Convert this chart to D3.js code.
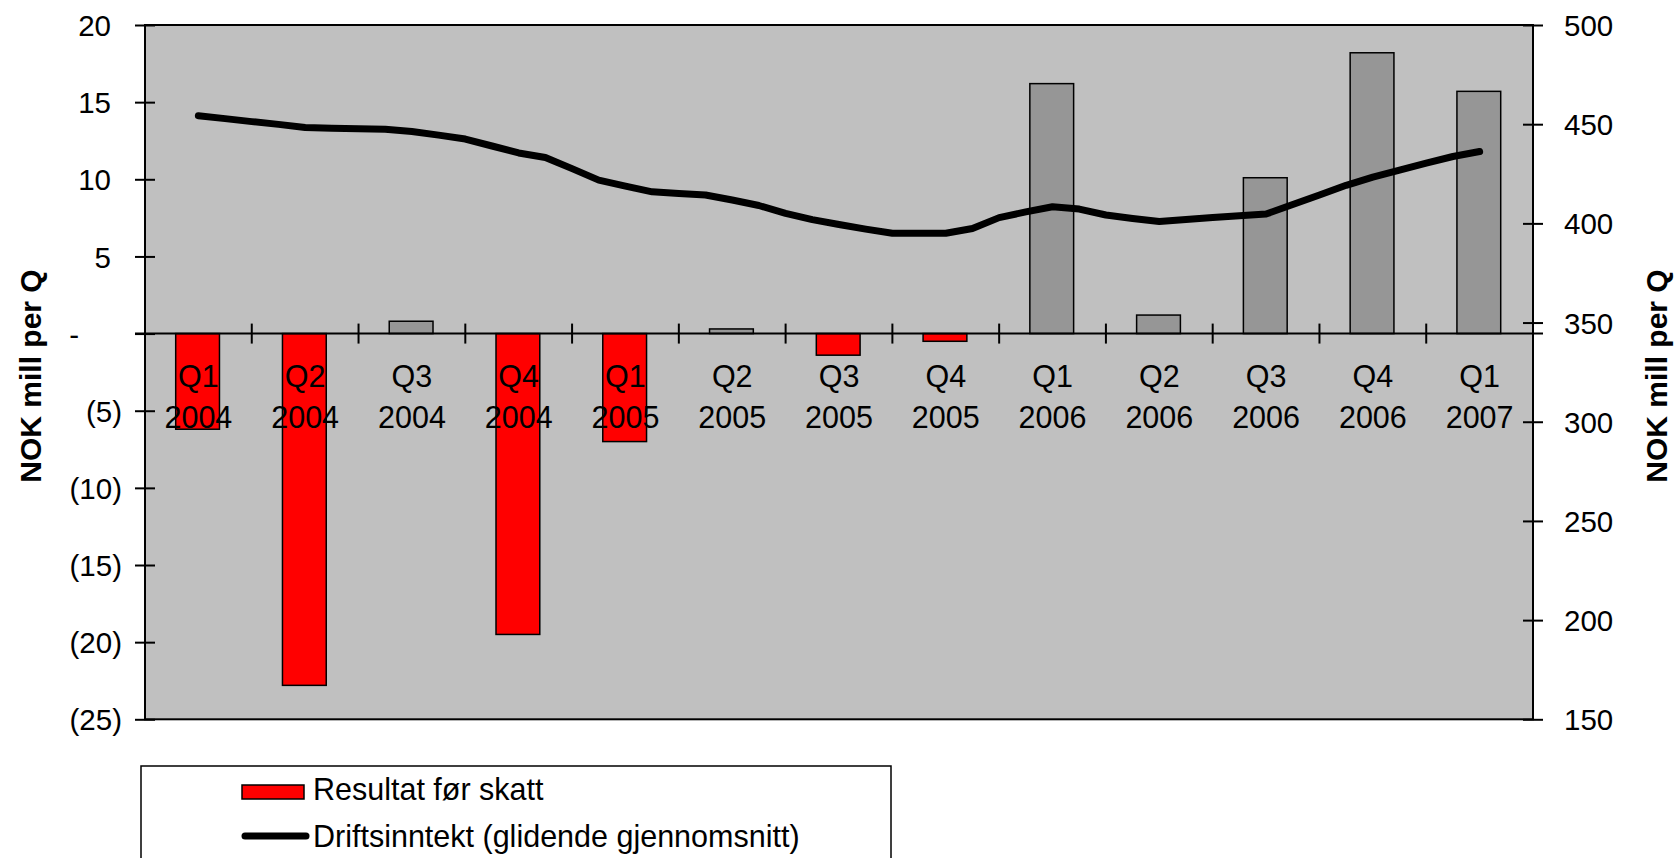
<!DOCTYPE html>
<html>
<head>
<meta charset="utf-8">
<script src="https://cdn.jsdelivr.net/npm/d3@7/dist/d3.min.js"></script>
<style>
  html, body { margin: 0; padding: 0; background: #ffffff; }
  svg { display: block; }
  text { font-family: "Liberation Sans", Arial, sans-serif; fill: #000; }
</style>
</head>
<body>
<svg id="chart" width="1674" height="858"></svg>
<script>
// ---------- DATA ----------
const quarters = ["Q1","Q2","Q3","Q4","Q1","Q2","Q3","Q4","Q1","Q2","Q3","Q4","Q1"];
const years    = ["2004","2004","2004","2004","2005","2005","2005","2005","2006","2006","2006","2006","2007"];
// Resultat før skatt (NOK mill per Q), left axis
const resultat = [-6.2, -22.8, 0.8, -19.5, -7.0, 0.3, -1.4, -0.5, 16.2, 1.2, 10.1, 18.2, 15.7];
// Driftsinntekt (glidende gjennomsnitt), right axis, sampled 4 times per quarter from Q1 2004 to Q1 2007
const driftsinntekt = [
  454.3, 452.8, 451.3, 449.9, 448.3, 448.0, 447.7, 447.4,
  446.3, 444.5, 442.5, 439.0, 435.5, 433.2, 427.6, 421.8,
  418.8, 415.9, 415.1, 414.3, 411.8, 409.0, 405.0, 401.9,
  399.4, 397.1, 395.0, 395.0, 395.0, 397.4, 402.9, 405.8,
  408.4, 407.2, 404.2, 402.5, 400.9, 401.9, 403.0, 403.9,
  404.7, 409.5, 414.3, 419.2, 423.3, 426.9, 430.4, 433.7, 436.2
];
const leftTicks  = [-25, -20, -15, -10, -5, 0, 5, 10, 15, 20];
const rightTicks = [150, 200, 250, 300, 350, 400, 450, 500];
const leftTitle  = "NOK mill per Q";
const rightTitle = "NOK mill per Q";
const legendLabels = ["Resultat før skatt", "Driftsinntekt (glidende gjennomsnitt)"];

// ---------- LAYOUT ----------
const svg = d3.select("#chart");
const L = 145, R = 1533, T = 25, B = 719.3;
const idx = d3.range(quarters.length);

const x = d3.scaleBand().domain(idx).range([L, R]).padding(0);
const bw = x.bandwidth();
const yL = d3.scaleLinear().domain([-25, 20]).range([B, T]);
const yR = d3.scaleLinear().domain([150, 500]).range([B, T]);
const xLine = d3.scaleLinear().domain([0, quarters.length - 1])
  .range([x(0) + bw / 2, x(quarters.length - 1) + bw / 2]);

// plot background
svg.append("rect").attr("x", L).attr("y", T).attr("width", R - L).attr("height", B - T)
  .attr("fill", "#C0C0C0");

// bars
const barW = bw * 0.41;
svg.append("g").selectAll("rect").data(resultat).join("rect")
  .attr("x", (d, i) => x(i) + bw / 2 - barW / 2 - 0.8)
  .attr("width", barW)
  .attr("y", d => yL(Math.max(0, d)))
  .attr("height", d => Math.abs(yL(d) - yL(0)))
  .attr("fill", d => d < 0 ? "#FF0000" : "#969696")
  .attr("stroke", "#000").attr("stroke-width", 1.5);

// line
const line = d3.line().x((d, i) => xLine(i / 4)).y(d => yR(d));
svg.append("path").datum(driftsinntekt).attr("d", line)
  .attr("fill", "none").attr("stroke", "#000").attr("stroke-width", 7)
  .attr("stroke-linejoin", "round").attr("stroke-linecap", "round");

// plot border
svg.append("rect").attr("x", L).attr("y", T).attr("width", R - L).attr("height", B - T)
  .attr("fill", "none").attr("stroke", "#000").attr("stroke-width", 2);

// left axis
const gL = svg.append("g").attr("transform", `translate(${L},0)`)
  .call(d3.axisLeft(yL).tickValues(leftTicks).tickSize(10).tickFormat(""));
gL.select(".domain").remove();
gL.selectAll(".tick line").attr("x1", -10).attr("x2", 10).attr("stroke", "#000").attr("stroke-width", 2);
gL.selectAll(".tick").append("text")
  .attr("x", d => d < 0 ? -23 : (d === 0 ? -66 : -34))
  .attr("dy", "0.36em")
  .attr("text-anchor", "end")
  .style("font-size", "29.5px")
  .text(d => d === 0 ? "-" : (d < 0 ? `(${-d})` : `${d}`));

// right axis
const gR = svg.append("g").attr("transform", `translate(${R},0)`)
  .call(d3.axisRight(yR).tickValues(rightTicks).tickSize(10).tickFormat(""));
gR.select(".domain").remove();
gR.selectAll(".tick line").attr("x1", -10).attr("x2", 10).attr("stroke", "#000").attr("stroke-width", 2);
gR.selectAll(".tick").append("text")
  .attr("x", 31).attr("dy", "0.36em").attr("text-anchor", "start")
  .style("font-size", "29.5px")
  .text(d => d);

// category axis at zero
const y0 = yL(0);
svg.append("line").attr("x1", L - 10).attr("x2", R + 10).attr("y1", y0).attr("y2", y0)
  .attr("stroke", "#000").attr("stroke-width", 2);
svg.append("g").selectAll("line").data(idx.slice(1)).join("line")
  .attr("x1", i => x(i)).attr("x2", i => x(i))
  .attr("y1", y0 - 10).attr("y2", y0 + 10)
  .attr("stroke", "#000").attr("stroke-width", 2);
const gC = svg.append("g").selectAll("g").data(idx).join("g")
  .attr("transform", i => `translate(${x(i) + bw / 2},0)`);
gC.append("text").attr("y", 387).attr("text-anchor", "middle").style("font-size", "30.5px")
  .text(i => quarters[i]);
gC.append("text").attr("y", 428).attr("text-anchor", "middle").style("font-size", "30.5px")
  .text(i => years[i]);

// axis titles
svg.append("text").attr("transform", "translate(41,376) rotate(-90)")
  .attr("text-anchor", "middle").style("font-size", "30px").style("font-weight", "bold")
  .text(leftTitle);
svg.append("text").attr("transform", "translate(1667,376) rotate(-90)")
  .attr("text-anchor", "middle").style("font-size", "30px").style("font-weight", "bold")
  .text(rightTitle);

// legend
const lg = svg.append("g");
lg.append("rect").attr("x", 141).attr("y", 766).attr("width", 750).attr("height", 140)
  .attr("fill", "#fff").attr("stroke", "#000").attr("stroke-width", 1.5);
lg.append("rect").attr("x", 242).attr("y", 785).attr("width", 62).attr("height", 14)
  .attr("fill", "#FF0000").attr("stroke", "#000").attr("stroke-width", 1.5);
lg.append("text").attr("x", 313).attr("y", 800).style("font-size", "30.5px").text(legendLabels[0]);
lg.append("line").attr("x1", 245).attr("x2", 306).attr("y1", 836).attr("y2", 836)
  .attr("stroke", "#000").attr("stroke-width", 7).attr("stroke-linecap", "round");
lg.append("text").attr("x", 313).attr("y", 847).style("font-size", "30.5px").text(legendLabels[1]);
</script>
</body>
</html>
